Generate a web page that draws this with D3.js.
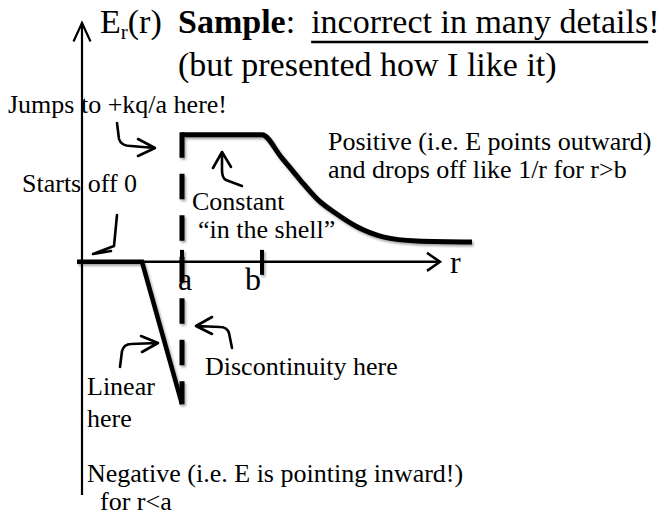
<!DOCTYPE html>
<html><head><meta charset="utf-8">
<script src="https://cdn.jsdelivr.net/npm/d3@7"></script>
<style>
body{margin:0;background:#fff}
svg{display:block}
text{font-family:"Liberation Serif","Times New Roman",serif;fill:#000}
</style>
</head><body>
<svg id="c" width="664" height="515"></svg>
<script>
// radial positions of the shell edges (r = a, r = b) and their labels
const tickR = [5, 9];
const tickLabels = ["a", "b"];
// E_r(r) inside: zero, then a linear drop up to r = a
const innerR = [-0.25, 3, 5];
const innerE = [0, 0, -11.2];
// constant field in the shell
const shellR = [5, 9];
const shellE = [10, 10];
// fall-off outside the shell
const outerR = [9, 9.95, 10.9, 11.8, 12.65, 13.75, 15.05, 16.75, 19.5];
const outerE = [10, 8.27, 6.46, 4.88, 3.86, 2.76, 1.97, 1.65, 1.57];
// jump at r = a
const jumpR = 5;
const jumpE = [-11.2, 10];
// axis extents
const rAxis = [-0.25, 17.9];
const eAxis = [-18.35, 18.8];

const svg = d3.select("#c");
const x = d3.scaleLinear().domain([0, 20]).range([82, 482]);
const y = d3.scaleLinear().domain(eAxis).range([495, 23]);

const defs = svg.append("defs");
defs.append("filter").attr("id", "shadow")
  .attr("filterUnits", "userSpaceOnUse")
  .attr("x", 0).attr("y", 0).attr("width", 664).attr("height", 515)
  .append("feDropShadow")
  .attr("dx", 1.5).attr("dy", 2).attr("stdDeviation", 1.3)
  .attr("flood-color", "#000").attr("flood-opacity", 0.35);

// ---- axes ----
const x0 = x(0), y0 = y(0);
const axes = svg.append("g").attr("stroke", "#000").attr("fill", "none");
axes.append("line")
  .attr("x1", x0).attr("x2", x0)
  .attr("y1", y(eAxis[0])).attr("y2", y(eAxis[1]))
  .attr("stroke-width", 2.2);
const yTop = y(eAxis[1]);
axes.append("path")
  .attr("d", `M${x0 - 8.5},${yTop + 18.5}L${x0},${yTop}L${x0 + 8.5},${yTop + 18.5}`)
  .attr("stroke-width", 2.2);
const xEnd = x(rAxis[1]);
axes.append("line")
  .attr("x1", x(rAxis[0])).attr("x2", xEnd)
  .attr("y1", y0).attr("y2", y0)
  .attr("stroke-width", 2.5);
axes.append("path")
  .attr("d", `M${xEnd - 13},${y0 - 9}L${xEnd},${y0}L${xEnd - 13},${y0 + 9}`)
  .attr("stroke-width", 2.5);
svg.append("text").attr("x", xEnd + 10).attr("y", y0 + 11)
  .attr("font-size", 32).text("r");

// ---- field curve ----
const line = d3.line().x(d => x(d[0])).y(d => y(d[1]));
const curve = svg.append("g").attr("filter", "url(#shadow)")
  .attr("fill", "none").attr("stroke", "#000");

curve.append("path")
  .attr("d", line(innerR.map((r, i) => [r, innerE[i]])))
  .attr("stroke-width", 4.5).attr("stroke-linejoin", "miter");

curve.append("path")
  .attr("d", line.curve(d3.curveMonotoneX)(
    shellR.map((r, i) => [r, shellE[i]]).concat(outerR.slice(1).map((r, i) => [r, outerE[i + 1]]))))
  .attr("stroke-width", 5).attr("stroke-linejoin", "miter");

curve.append("line")
  .attr("x1", x(jumpR)).attr("x2", x(jumpR))
  .attr("y1", y(jumpE[1]) - 2.5).attr("y2", y(jumpE[0]))
  .attr("stroke-width", 5).attr("stroke-dasharray", "25.5,16");

// tick marks at a and b
curve.selectAll(".tick").data(tickR).join("line")
  .attr("x1", d => x(d)).attr("x2", d => x(d))
  .attr("y1", y0 - 12).attr("y2", y0 + 13)
  .attr("stroke-width", 4);

svg.selectAll(".tlab").data(tickLabels).join("text")
  .attr("x", (d, i) => x(tickR[i]) + (i === 0 ? 3 : -9))
  .attr("y", y0 + 28)
  .attr("text-anchor", "middle")
  .attr("font-size", 32)
  .text(d => d);

// ---- title ----
const tFont = 34;
const t1 = svg.append("text").attr("x", 100).attr("y", 33).attr("font-size", tFont);
t1.append("tspan").text("E");
t1.append("tspan").attr("font-size", 21).attr("dy", 6).text("r");
t1.append("tspan").attr("dy", -6).text("(r)");

const t2 = svg.append("text").attr("x", 178).attr("y", 33).attr("font-size", tFont);
t2.append("tspan").attr("font-weight", "bold").text("Sample");
t2.append("tspan").text(":");
const w2 = t2.node().getComputedTextLength();
const x3 = 178 + w2 + 16;
const t3 = svg.append("text").attr("x", x3).attr("y", 33).attr("font-size", tFont)
  .text("incorrect in many details");
const w3 = t3.node().getComputedTextLength();
svg.append("text").attr("x", x3 + w3).attr("y", 33).attr("font-size", tFont).text("!");
svg.append("line")
  .attr("x1", x3).attr("x2", x3 + w3)
  .attr("y1", 42).attr("y2", 42)
  .attr("stroke", "#000").attr("stroke-width", 2.3);

svg.append("text").attr("x", 178).attr("y", 76).attr("font-size", tFont)
  .text("(but presented how I like it)");

// ---- annotations ----
const notes = [
  {t: "Jumps to +kq/a here!", x: 8, y: 113},
  {t: "Starts off 0", x: 22, y: 192},
  {t: "Constant", x: 192, y: 210},
  {t: "\u201Cin the shell\u201D", x: 198, y: 238},
  {t: "Positive (i.e. E points outward)", x: 328, y: 150},
  {t: "and drops off like 1/r for r>b", x: 328, y: 178},
  {t: "Discontinuity here", x: 205, y: 375},
  {t: "Linear", x: 87, y: 395},
  {t: "here", x: 87, y: 427},
  {t: "Negative (i.e. E is pointing inward!)", x: 87, y: 482},
  {t: "for r<a", x: 100, y: 510}
];
svg.selectAll(".note").data(notes).join("text")
  .attr("x", d => d.x).attr("y", d => d.y)
  .attr("font-size", 26)
  .text(d => d.t);

// hand-drawn pointer arrows
const pointers = [
  "M117,123 L119,139 Q121,146 131,146 L155,148 M138,139 L155,148 L138,156",
  "M242,186 L226,180 Q222,178 222,170 L222,152 M213,168 L222,152 L231,167",
  "M117,215 L114,246 L93,254 L111,251",
  "M120,367 L122,351 Q124,344 131,344 L158,343 M141,336 L158,343 L142,352",
  "M232,348 L229,333 Q227,327 220,327 L196,326 M212,317 L196,326 L212,334"
];
svg.append("g").attr("fill", "none").attr("stroke", "#000")
  .attr("stroke-width", 2.6).attr("stroke-linecap", "round").attr("stroke-linejoin", "round")
  .selectAll("path").data(pointers).join("path").attr("d", d => d);
</script>
</body></html>
